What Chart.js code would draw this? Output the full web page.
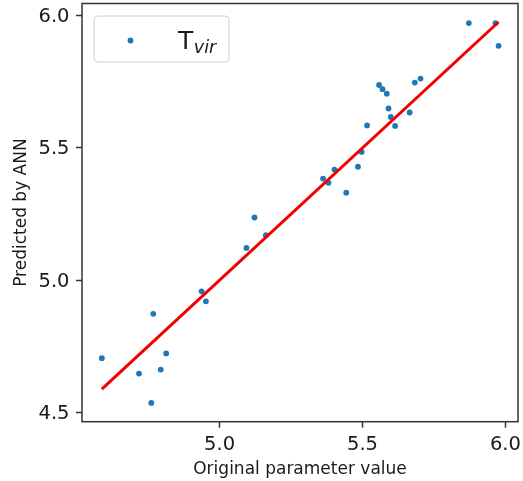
<!DOCTYPE html>
<html>
<head>
<meta charset="utf-8">
<script src="https://cdn.jsdelivr.net/npm/chart.js@4/dist/chart.umd.min.js"></script>
<style>
  html, body { margin: 0; padding: 0; background: #ffffff; }
  #c { display: block; }
</style>
</head>
<body>
<canvas id="c" width="523" height="481"></canvas>
<script>
// Original (true) parameter values and the network's predictions for them
const trueValues = [
  4.588, 4.718, 4.761, 4.768, 4.794, 4.813, 4.937, 4.952,
  5.094, 5.122, 5.162, 5.362, 5.381, 5.402, 5.443, 5.484,
  5.497, 5.516, 5.558, 5.570, 5.585, 5.591, 5.599, 5.614,
  5.665, 5.683, 5.703, 5.872, 5.965, 5.976
];
const predictedValues = [
  4.705, 4.647, 4.536, 4.873, 4.662, 4.723, 4.958, 4.920,
  5.122, 5.237, 5.170, 5.384, 5.368, 5.418, 5.331, 5.429,
  5.485, 5.585, 5.738, 5.722, 5.705, 5.649, 5.617, 5.583,
  5.634, 5.747, 5.762, 5.972, 5.972, 5.886
];

// Axis ticks
const xTicks = [5.0, 5.5, 6.0];
const yTicks = [4.5, 5.0, 5.5, 6.0];

// Legend label: base symbol and subscript
const legendBase = 'T';
const legendSub = 'vir';

const xLabel = 'Original parameter value';
const yLabel = 'Predicted by ANN';

const points = trueValues.map((v, i) => ({ x: v, y: predictedValues[i] }));
const lo = Math.min(...trueValues);
const hi = Math.max(...trueValues);
const identityLine = [{ x: lo, y: lo }, { x: hi, y: hi }];

const POINT_COLOR = '#1f77b4';
const FRAME_COLOR = '#333333';
const TEXT_COLOR = '#1a1a1a';

// Axes frame on all four sides
const framePlugin = {
  id: 'frame',
  afterDraw(chart) {
    const { ctx, chartArea: a } = chart;
    ctx.save();
    ctx.strokeStyle = FRAME_COLOR;
    ctx.lineWidth = 1.5;
    ctx.strokeRect(a.left, a.top, a.right - a.left, a.bottom - a.top);
    ctx.restore();
  }
};

// Legend box with a subscripted label
const legendPlugin = {
  id: 'subLegend',
  afterDraw(chart) {
    const { ctx } = chart;
    const bx = 94, by = 16, bw = 135, bh = 46, r = 4;
    ctx.save();
    ctx.beginPath();
    ctx.moveTo(bx + r, by);
    ctx.arcTo(bx + bw, by, bx + bw, by + bh, r);
    ctx.arcTo(bx + bw, by + bh, bx, by + bh, r);
    ctx.arcTo(bx, by + bh, bx, by, r);
    ctx.arcTo(bx, by, bx + bw, by, r);
    ctx.closePath();
    ctx.fillStyle = 'rgba(255,255,255,0.8)';
    ctx.fill();
    ctx.strokeStyle = '#d0d0d0';
    ctx.lineWidth = 1;
    ctx.stroke();

    ctx.beginPath();
    ctx.arc(130.5, 40.5, 2.9, 0, Math.PI * 2);
    ctx.fillStyle = POINT_COLOR;
    ctx.fill();

    ctx.fillStyle = TEXT_COLOR;
    ctx.textBaseline = 'alphabetic';
    ctx.textAlign = 'left';
    ctx.font = '25px "DejaVu Sans"';
    ctx.fillText(legendBase, 178, 49.3);
    const w = ctx.measureText(legendBase).width;
    ctx.font = 'italic 17.5px "DejaVu Sans"';
    ctx.fillText(legendSub, 178 + w + 0.5, 52.5);
    ctx.restore();
  }
};

const tickFont = { family: 'DejaVu Sans', size: 19.5 };
const titleFont = { family: 'DejaVu Sans', size: 17 };

new Chart(document.getElementById('c'), {
  type: 'scatter',
  data: {
    datasets: [
      {
        type: 'line',
        data: identityLine,
        borderColor: '#f00000',
        borderWidth: 3,
        pointRadius: 0,
        fill: false,
        order: 0
      },
      {
        label: legendBase + legendSub,
        data: points,
        backgroundColor: POINT_COLOR,
        borderWidth: 0,
        pointRadius: 2.9,
        pointHoverRadius: 2.9,
        order: 1
      }
    ]
  },
  options: {
    responsive: false,
    animation: false,
    devicePixelRatio: 1,
    layout: { padding: { top: 3.5, right: 5, left: 0, bottom: 0 } },
    plugins: { legend: { display: false }, tooltip: { enabled: false } },
    scales: {
      x: {
        type: 'linear',
        min: 4.5186,
        max: 6.044,
        afterBuildTicks: s => { s.ticks = xTicks.map(v => ({ value: v })); },
        afterFit: s => { s.height = 59.3; s.paddingLeft = 0; s.paddingRight = 0; },
        ticks: { font: tickFont, color: TEXT_COLOR, padding: 6, callback: v => v.toFixed(1) },
        grid: { drawOnChartArea: false, drawTicks: true, tickLength: 6, tickColor: FRAME_COLOR, tickWidth: 1.5 },
        border: { display: false },
        title: { display: true, text: xLabel, font: titleFont, color: TEXT_COLOR, padding: { top: 0, bottom: 1.2 } }
      },
      y: {
        type: 'linear',
        min: 4.465,
        max: 6.046,
        afterBuildTicks: s => { s.ticks = yTicks.map(v => ({ value: v })); },
        afterFit: s => { s.width = 82; s.paddingTop = 0; s.paddingBottom = 0; },
        ticks: { font: tickFont, color: TEXT_COLOR, padding: 6.5, labelOffset: 1.5, callback: v => v.toFixed(1) },
        grid: { drawOnChartArea: false, drawTicks: true, tickLength: 6, tickColor: FRAME_COLOR, tickWidth: 1.5 },
        border: { display: false },
        title: { display: true, text: yLabel, font: titleFont, color: TEXT_COLOR, padding: { top: 11.4, bottom: 0 } }
      }
    }
  },
  plugins: [framePlugin, legendPlugin]
});
</script>
</body>
</html>
